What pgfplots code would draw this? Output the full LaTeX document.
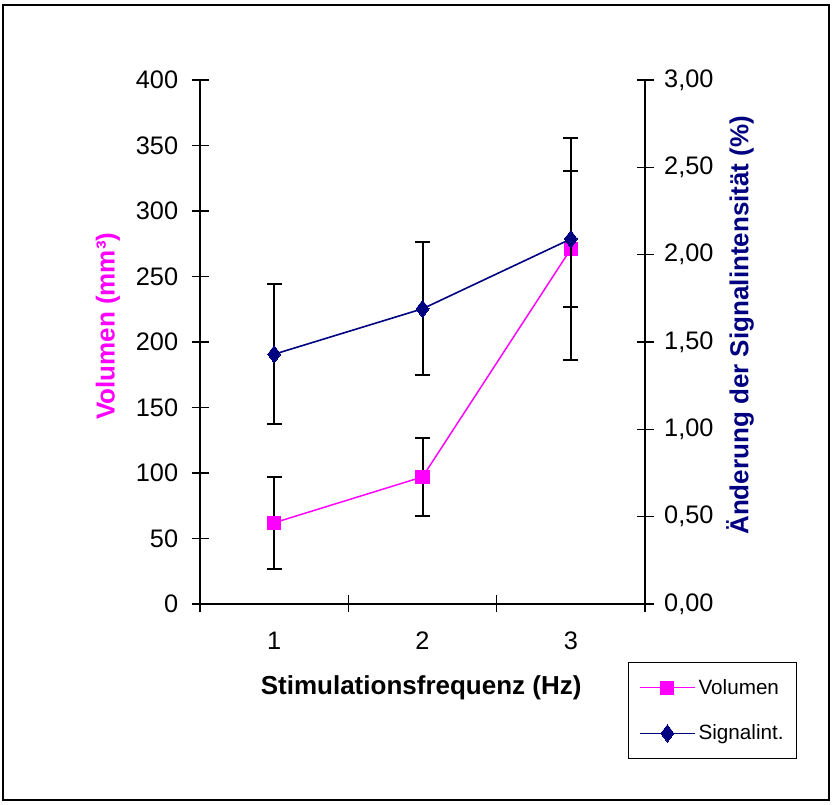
\documentclass[border=0pt]{standalone}
\usepackage{fontspec}
\setmainfont{Liberation Sans}
\usepackage{pgfplots}
\pgfplotsset{compat=1.18}
\definecolor{vol}{RGB}{255,0,255}
\definecolor{sig}{RGB}{0,0,128}

\begin{document}
\begin{tikzpicture}[x=0.75pt,y=0.75pt]
\useasboundingbox (0,0) rectangle (834,805);
\draw[line width=1.1pt, black] (3,5) rectangle (829,800);

\pgfplotsset{
  common/.style={
    at={(150pt,150.75pt)}, anchor=south west,
    scale only axis, width=333.75pt, height=393pt,
    xmin=0.5, xmax=3.5,
    tick align=center, major tick length=12.75pt,
    tick style={black, line width=0.8pt},
    axis line style={black, line width=0.8pt},
    tick label style={font=\fontsize{19}{21}\selectfont},
    label style={font=\fontsize{19.5}{22}\selectfont\bfseries},
    /pgf/number format/assume math mode=true,
    error bars/error bar style={black, line width=1.5pt},
    error bars/error mark options={black, rotate=90, mark size=5.6pt, line width=1.5pt},
  },
}

\begin{axis}[common,
  ymin=0, ymax=400,
  axis y line*=left, axis x line*=bottom,
  xtick={0.5,1.5,2.5,3.5}, xticklabels={1,2,3}, x tick label as interval,
  xticklabel style={yshift=-11pt},
  ytick={0,50,...,400},
  yticklabel style={xshift=-6.5pt, /pgf/number format/.cd, fixed, precision=0},
  xlabel={Stimulationsfrequenz (Hz)},
  xlabel style={at={(axis description cs:0.497,-0.160)}, anchor=center},
  ylabel={Volumen (mm³)},
  ylabel style={at={(axis description cs:-0.207,0.53)}, anchor=center, color=vol},
]
\addplot[vol, line width=1.1pt, mark=square*, mark size=4.9pt, mark options={solid, fill=vol, line width=0pt},
  error bars/.cd, y dir=both, y explicit]
  coordinates {(1,62) +- (0,35) (2,97) +- (0,30) (3,271) +- (0,85)};
\end{axis}

\begin{axis}[common,
  ymin=0, ymax=3,
  axis y line*=right, axis x line=none,
  ytick={0,0.5,...,3},
  yticklabel style={xshift=4.5pt, /pgf/number format/.cd, fixed, fixed zerofill, precision=2, use comma},
  ylabel={Änderung der Signalintensität (\%)},
  ylabel style={at={(axis description cs:1.2135,0.532)}, anchor=center, color=sig},
  legend style={at={(axis description cs:0.962,-0.1107)}, anchor=north west,
    draw=black, line width=0.8pt, font=\fontsize{15.5}{17}\selectfont,
    inner xsep=8pt, inner ysep=10.5pt, row sep=17.5pt},
  legend cell align=left,
  legend image code/.code={\draw[mark repeat=2, mark phase=2, #1]
    plot coordinates {(0cm,0cm) (0.72cm,0cm) (1.45cm,0cm)};},
]
\addlegendimage{vol, line width=1.2pt, mark=square*, mark size=4.9pt, mark options={fill=vol, line width=0pt}}
\addlegendentry{Volumen}
\addplot[sig, line width=1.2pt, mark=diamond*, mark size=6.5pt, mark options={solid, fill=sig, line width=0pt},
  error bars/.cd, y dir=both, y explicit]
  coordinates {(1,1.43) +- (0,0.40) (2,1.69) +- (0,0.38) (3,2.09) +- (0,0.39)};
\addlegendentry{Signalint.}
\end{axis}
\end{tikzpicture}
\end{document}
